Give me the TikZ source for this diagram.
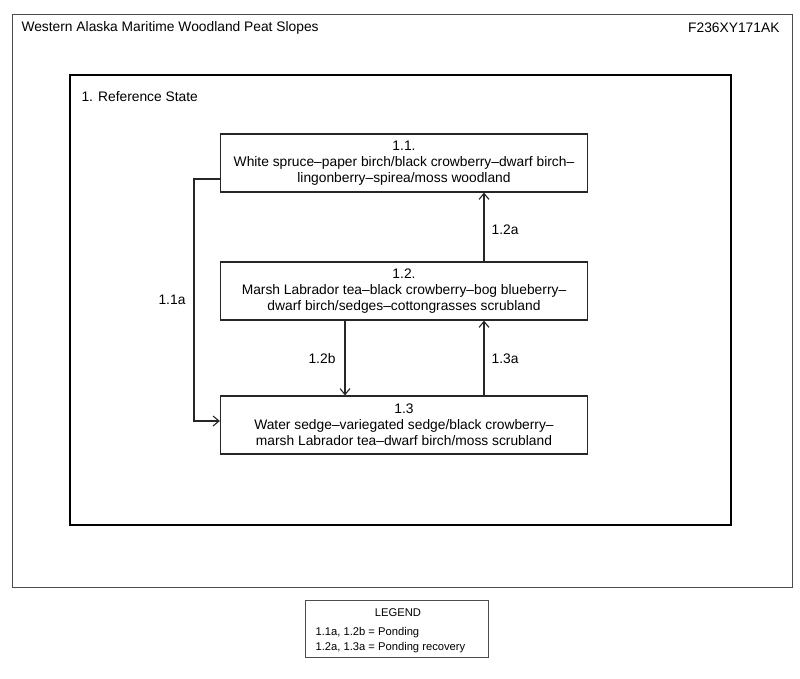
\documentclass[tikz,border=0pt]{standalone}
\usepackage{fontspec}
\setmainfont{Liberation Sans}
\usetikzlibrary{arrows.meta}
\begin{document}
\begin{tikzpicture}[x=1pt,y=-1pt,
  statebox/.style={draw=black!85,line width=1.2pt,minimum width=367pt,minimum height=58pt,align=center,font=\fontsize{13.8}{16}\selectfont,inner sep=0pt},
  conn/.style={line width=1.1pt,draw=black!85,-{Straight Barb[length=6pt,width=10pt]}},
  lbl/.style={font=\fontsize{13.8}{16}\selectfont}]
\useasboundingbox (0,0) rectangle (800,679);
\fill[white] (0,0) rectangle (800,679);
\draw[black!70,line width=0.8pt] (12,14) rectangle (792,587);
\node[anchor=west,font=\fontsize{13.8}{16}\selectfont] (title) at (18,28) {Western Alaska Maritime Woodland Peat Slopes};
\node[anchor=east,font=\fontsize{13.8}{16}\selectfont] (code) at (783,28) {F236XY171AK};
\draw[black,line width=1.6pt] (70,75) rectangle (731,525);
\node[anchor=west,font=\fontsize{13.8}{16}\selectfont] (ref) at (78,97) {1. Reference State};
\node[statebox] (s11) at (404,163) {1.1.\\White spruce–paper birch/black crowberry–dwarf birch–\\lingonberry–spirea/moss woodland};
\node[statebox] (s12) at (404,291) {1.2.\\Marsh Labrador tea–black crowberry–bog blueberry–\\dwarf birch/sedges–cottongrasses scrubland};
\node[statebox] (s13) at (404,425) {1.3\\Water sedge–variegated sedge/black crowberry–\\marsh Labrador tea–dwarf birch/moss scrubland};
\coordinate (c1) at (194,179);
\coordinate (c2) at (194,421);
\draw[conn] (s11.west |- c1) -- (c1) -- (c2) -- (s13.west |- c2);
\draw[conn] (s12.north -| 484,0) -- (s11.south -| 484,0);
\draw[conn] (s13.north -| 484,0) -- (s12.south -| 484,0);
\draw[conn] (s12.south -| 345,0) -- (s13.north -| 345,0);
\node[lbl] (l11a) at (172,300) {1.1a};
\node[lbl] (l12a) at (505,230) {1.2a};
\node[lbl] (l13a) at (505,359) {1.3a};
\node[lbl] (l12b) at (322,359) {1.2b};
\draw[black!70,line width=1pt] (305,600) rectangle (488,657);
\node[font=\fontsize{11.2}{13}\selectfont] (leg) at (398,613) {LEGEND};
\node[anchor=west,font=\fontsize{11.2}{13}\selectfont] (leg1) at (312,633) {1.1a, 1.2b = Ponding};
\node[anchor=west,font=\fontsize{11.2}{13}\selectfont] (leg2) at (312,648) {1.2a, 1.3a = Ponding recovery};
\end{tikzpicture}
\end{document}
